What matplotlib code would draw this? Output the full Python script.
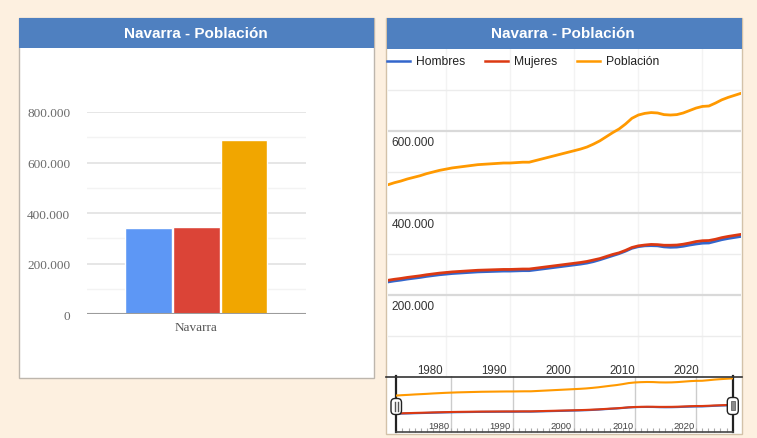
import matplotlib
matplotlib.use('Agg')
import matplotlib.pyplot as plt
from matplotlib.lines import Line2D
from matplotlib.patches import Rectangle, FancyBboxPatch

W, H = 757, 439

# datos (padron Navarra)
years = list(range(1971, 2027))
poblacion = [470, 475, 479, 484, 488, 492, 497, 501, 505, 508,
             511, 513, 515, 517, 519, 520, 521, 522, 523, 523,
             524, 525, 525, 529, 533, 537, 541, 545, 549, 553,
             557, 562, 569, 577, 587, 597, 606, 618, 632, 640,
             644, 646, 645, 641, 640, 641, 645, 651, 657, 661,
             662, 669, 677, 683, 688, 693]
mujeres = [237, 239.5, 241.5, 244, 246, 248, 250.5, 252.5, 254.5, 256,
           257.5, 258.5, 259.5, 260.5, 261.5, 262, 262.5, 263, 263.5, 263.5,
           264, 264.5, 264.5, 266.5, 268.5, 270.5, 272.5, 274.5, 276.5, 278.5,
           280.5, 283, 286.5, 290, 295, 300, 304, 310, 317, 321,
           323, 324.5, 324, 322.5, 322.5, 323, 325, 328, 331.5, 333.5,
           334, 337, 341, 344, 346.5, 349]
hombres = [233, 235.5, 237.5, 240, 242, 244, 246.5, 248.5, 250.5, 252,
           253.5, 254.5, 255.5, 256.5, 257.5, 258, 258.5, 259, 259.5, 259.5,
           260, 260.5, 260.5, 262.5, 264.5, 266.5, 268.5, 270.5, 272.5, 274.5,
           276.5, 279, 282.5, 287, 292, 297, 302, 308, 315, 319,
           321, 321.5, 321, 318.5, 317.5, 318, 320, 323, 325.5, 327.5,
           328, 332, 336, 339, 341.5, 344]
# valores actuales en barras (miles)
bar_vals = [341, 345, 688]

region = 'Navarra'
title = 'Navarra - Población'
names = ['Hombres', 'Mujeres', 'Población']
line_colors = ['#3366cc', '#dc3912', '#ff9900']
bar_colors = ['#5d97f5', '#db4437', '#f1a600']
decades = [1980, 1990, 2000, 2010, 2020]


def box(x0, y0, x1, y1):
    return [x0 / W, 1 - y1 / H, (x1 - x0) / W, (y1 - y0) / H]


def fmt(v):
    return f"{int(v):,}".replace(",", ".")


fig = plt.figure(figsize=(W / 100, H / 100), dpi=100, facecolor='#fdf0e0')

# fondo: paneles y titulos
bg = fig.add_axes([0, 0, 1, 1], zorder=0)
bg.set_xlim(0, W)
bg.set_ylim(H, 0)
bg.axis('off')
bg.add_patch(Rectangle((18.5, 18.5), 355.5, 360.5, fc='white', ec='#bdb6ad', lw=1))
bg.add_patch(Rectangle((19, 19), 354.5, 29.5, fc='#4f80c0', ec='none'))
bg.text(196, 33.5, title, color='white', fontweight='bold', fontsize=11,
        ha='center', va='center', family='Liberation Sans')
bg.add_patch(Rectangle((386, 18.5), 356, 416.5, fc='white', ec='#d3c2a9', lw=1))
bg.add_patch(Rectangle((386.5, 19), 355, 30.5, fc='#4f80c0', ec='none'))
bg.text(563, 33.5, title, color='white', fontweight='bold', fontsize=11,
        ha='center', va='center', family='Liberation Sans')

# ---- grafico de barras ----
ax1 = fig.add_axes(box(87, 113, 305.7, 315.3), zorder=2)
ax1.set_facecolor('none')
offs = [-0.218, 0, 0.218]
for i in range(3):
    ax1.bar(offs[i], bar_vals[i] * 1000, width=0.213, color=bar_colors[i],
            edgecolor='white', linewidth=1, zorder=3)
ax1.set_xlim(-0.5, 0.5)
ax1.set_ylim(0, 800000)
ax1.set_yticks([0, 200000, 400000, 600000, 800000])
ax1.set_yticklabels([fmt(v) for v in [0, 200000, 400000, 600000, 800000]])
ax1.set_yticks([100000, 300000, 500000, 700000], minor=True)
ax1.grid(axis='y', which='major', color='#e2e2e2', lw=1.2)
ax1.grid(axis='y', which='minor', color='#f3f3f3', lw=1)
ax1.set_axisbelow(True)
ax1.set_xticks([0])
ax1.set_xticklabels([region])
ax1.tick_params(which='both', length=0)
ax1.tick_params(axis='y', pad=12, labelsize=9.5, labelcolor='#6a6a6a')
ax1.tick_params(axis='x', pad=5, labelsize=9.5, labelcolor='#555555')
for lab in ax1.get_xticklabels() + ax1.get_yticklabels():
    lab.set_family('Liberation Serif')
for s in ax1.spines.values():
    s.set_visible(False)
ax1.axhline(0, color='#9c9c9c', lw=1.5, zorder=4)

# ---- grafico de lineas ----
ax2 = fig.add_axes(box(388, 50, 741, 378.5), zorder=2)
ax2.set_facecolor('none')
ax2.set_xlim(1971, 2026)
ax2.set_ylim(0, 801000)
for d in decades:
    ax2.axvline(d, color='#f3f3f3', lw=1, zorder=1)
for v in [100000, 300000, 500000, 700000]:
    ax2.axhline(v, color='#ececec', lw=1, zorder=1)
for v in [200000, 400000, 600000]:
    ax2.axhline(v, color='#d9d9d9', lw=1.6, zorder=1)
    ax2.annotate(fmt(v), xy=(0, v), xycoords=('axes fraction', 'data'),
                 xytext=(2.5, -3.5), textcoords='offset points', va='top', ha='left',
                 fontsize=8.6, color='#333333', family='Liberation Sans')
series = [hombres, mujeres, poblacion]
for i in range(3):
    ax2.plot(years, [v * 1000 for v in series[i]], color=line_colors[i],
             lw=2.0, zorder=3 + i, solid_capstyle='round', solid_joinstyle='round')
for d in decades:
    ax2.annotate(str(d), xy=(d - 2.5, 0), xycoords=('data', 'axes fraction'),
                 xytext=(0, 3.2), textcoords='offset points', va='baseline', ha='center',
                 fontsize=8.3, color='#333333', family='Liberation Sans')
ax2.set_xticks([])
ax2.set_yticks([])
for s in ax2.spines.values():
    s.set_visible(False)

# ---- navegador ----
ax3 = fig.add_axes(box(396.3, 377.3, 732.7, 432.7), zorder=3)
ax3.set_facecolor('none')
ax3.set_xlim(1971, 2026)
ax3.set_ylim(0, 720000)
for d in decades:
    ax3.axvline(d, color='#cccccc', lw=1, zorder=1)
for i in range(3):
    ax3.plot(years, [v * 1000 for v in series[i]], color=line_colors[i], lw=1.5, zorder=3 + i)
ax3.set_xticks(years, minor=True)
ax3.set_xticks([])
ax3.set_yticks([])
ax3.tick_params(axis='x', which='minor', direction='in', length=3, color='#aaaaaa', width=0.8)
for d in decades:
    ax3.annotate(str(d), xy=(d - 2, 0), xycoords=('data', 'axes fraction'),
                 xytext=(0, 2.4), textcoords='offset points', va='baseline', ha='center',
                 fontsize=6.8, color='#444444', family='Liberation Sans')
ax3.spines['top'].set_visible(False)
ax3.spines['left'].set_color('#222222')
ax3.spines['right'].set_color('#222222')
ax3.spines['left'].set_linewidth(1.6)
ax3.spines['right'].set_linewidth(1.6)
ax3.spines['bottom'].set_color('#444444')
ax3.spines['bottom'].set_linewidth(1.2)

# ---- leyenda y controles (coordenadas en pixeles) ----
fg = fig.add_axes([0, 0, 1, 1], zorder=10)
fg.set_xlim(0, W)
fg.set_ylim(H, 0)
fg.axis('off')
leg_x = [387, 485, 577]
for i in range(3):
    fg.add_line(Line2D([leg_x[i], leg_x[i] + 23], [62, 62], color=line_colors[i], lw=1.8))
    fg.text(leg_x[i] + 29, 62, names[i], va='center', ha='left', fontsize=8.7,
            color='#222222', family='Liberation Sans')
fg.add_line(Line2D([386, 742], [377.5, 377.5], color='#333333', lw=1.2))
fg.add_patch(FancyBboxPatch((391, 399.5), 10.5, 16, boxstyle='round,pad=0,rounding_size=4',
                            fc='white', ec='#222222', lw=1))
fg.add_line(Line2D([395, 395], [403, 412], color='#555555', lw=1))
fg.add_line(Line2D([397.6, 397.6], [403, 412], color='#555555', lw=1))
fg.add_patch(FancyBboxPatch((727.3, 398.5), 11, 17, boxstyle='round,pad=0,rounding_size=4',
                            fc='white', ec='#222222', lw=1))
fg.add_patch(Rectangle((731.2, 402.5), 3.4, 9, fc='#8a8a8a', ec='#666666', lw=0.6))

fig.savefig('out.png', dpi=100, facecolor=fig.get_facecolor())
